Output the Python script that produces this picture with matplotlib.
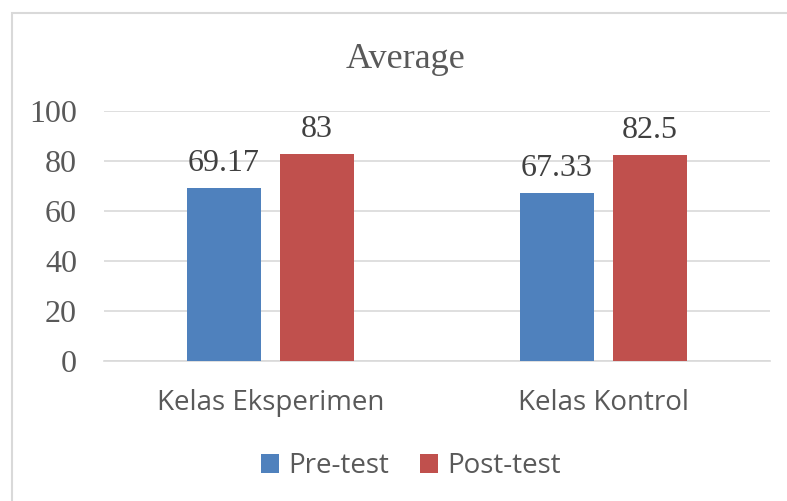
import numpy as np
import matplotlib.pyplot as plt
from matplotlib.patches import Rectangle

categories = ["Kelas Eksperimen", "Kelas Kontrol"]
pre_test = [69.17, 67.33]
post_test = [83, 82.5]
pre_labels = ["69.17", "67.33"]
post_labels = ["83", "82.5"]
y_ticks = [0, 20, 40, 60, 80, 100]

text_col = "#595959"
serif = ["Liberation Serif", "DejaVu Serif"]
sans = ["Open Sans", "DejaVu Sans"]

fig = plt.figure(figsize=(7.87, 5.01), dpi=100)
ax = fig.add_axes([104 / 787, 1 - 361 / 501, 666 / 787, 250 / 501])

# chart border (only top and left visible in the crop)
fig.add_artist(Rectangle((12 / 787, -0.1), 1.2, 1 - 13 / 501 + 0.1,
                         transform=fig.transFigure, fill=False,
                         edgecolor="#D9D9D9", linewidth=1.5))

x = np.arange(len(categories))
w = 0.222
off = 0.14
b1 = ax.bar(x - off, pre_test, w, color="#4F81BD", label="Pre-test", zorder=3)
b2 = ax.bar(x + off, post_test, w, color="#C0504D", label="Post-test", zorder=3)

for bars, labs in [(b1, pre_labels), (b2, post_labels)]:
    for b, t in zip(bars, labs):
        ax.annotate(t, (b.get_x() + b.get_width() / 2, b.get_height()),
                    xytext=(0, 12), textcoords="offset points",
                    ha="center", va="baseline", fontsize=23,
                    color="#404040", family=serif)

ax.set_xlim(-0.5, 1.5)
ax.set_ylim(0, 100)
ax.set_yticks(y_ticks)
ax.set_yticklabels([str(v) for v in y_ticks], family=serif, fontsize=23,
                   color=text_col)
ax.set_xticks(x)
ax.set_xticklabels(categories, family=sans, fontsize=20, color=text_col)
ax.tick_params(axis="both", length=0)
ax.tick_params(axis="y", pad=19.5)
ax.tick_params(axis="x", pad=20)
ax.grid(axis="y", color="#D9D9D9", linewidth=1.2, zorder=0)
for s in ["top", "right", "left"]:
    ax.spines[s].set_visible(False)
ax.spines["bottom"].set_color("#D9D9D9")
ax.spines["bottom"].set_linewidth(1.2)

fig.text(405.5 / 787, 1 - 68 / 501, "Average", ha="center", va="baseline",
         fontsize=26, color=text_col, family=serif)

fig.legend(loc="center", bbox_to_anchor=(411 / 787, 1 - 466 / 501), ncol=2,
           frameon=False, prop={"family": sans, "size": 20},
           handlelength=0.65, handleheight=0.65, handletextpad=0.35,
           columnspacing=1.1, labelcolor=text_col)

fig.savefig("out.png", dpi=100)
